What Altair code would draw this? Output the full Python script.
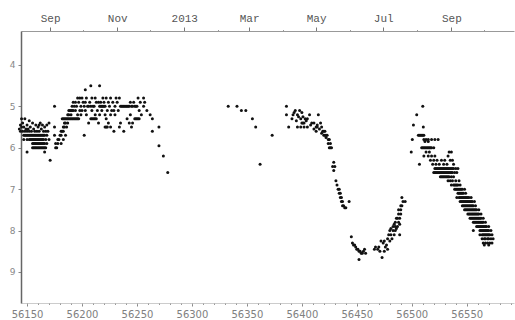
import altair as alt
import pandas as pd

# ---- data: rows of (magnitude, [MJD, ...]) ----
rows_2012 = [
    (5.3, [56145, 56148]),
    (5.35, [56152]),
    (5.4, [56146, 56155, 56162, 56170]),
    (5.45, [56144, 56150, 56158, 56161, 56164, 56168]),
    (5.5, [56145, 56147, 56153, 56160, 56166, 56175]),
    (5.55, [56143, 56149, 56151, 56156, 56163]),
    (5.6, [56144, 56146, 56148, 56150, 56152, 56154, 56157, 56159, 56161, 56165, 56167, 56169]),
    (5.7, [56147, 56148, 56149, 56150, 56151, 56152, 56153, 56154, 56155, 56156, 56157, 56158,
           56159, 56160, 56161, 56162, 56163, 56164, 56165, 56166, 56168, 56175]),
    (5.8, [56147, 56150, 56152, 56153, 56154, 56155, 56156, 56157, 56158, 56159, 56160, 56161,
           56162, 56163, 56164, 56165, 56167, 56170]),
    (5.9, [56155, 56156, 56157, 56158, 56159, 56160, 56161, 56162, 56163, 56164, 56165, 56166, 56168]),
    (6.0, [56155, 56156, 56157, 56158, 56159, 56160, 56161, 56162, 56163, 56164, 56165, 56166, 56167]),
    (6.1, [56150, 56166]),
    (6.3, [56171]),
    (5.0, [56175]),
    # rise
    (6.0, [56176, 56177]),
    (5.9, [56176, 56178, 56181]),
    (5.8, [56178, 56179, 56183]),
    (5.7, [56180, 56181, 56185]),
    (5.6, [56181, 56182, 56183]),
    (5.5, [56183, 56184, 56186]),
    (5.4, [56184, 56185, 56187]),
    (5.3, [56182, 56183, 56184, 56185, 56186, 56187, 56188, 56189, 56190, 56191, 56192, 56193,
           56194, 56195, 56196, 56197]),
    (5.2, [56187, 56188, 56190]),
    (5.1, [56188, 56189, 56191]),
    # plateau
    (4.6, [56203]),
    (4.5, [56208, 56216]),
    (4.8, [56196, 56198, 56200, 56204, 56209, 56212, 56219, 56222, 56226, 56231, 56234, 56251, 56256]),
    (4.9, [56192, 56194, 56197, 56201, 56203, 56207, 56213, 56215, 56217, 56220, 56224, 56228,
           56232, 56244, 56247, 56253, 56257]),
    (5.0, [56191, 56193, 56195, 56199, 56202, 56205, 56206, 56208, 56210, 56211, 56216, 56217,
           56218, 56219, 56220, 56221, 56225, 56230, 56235, 56236, 56237, 56238, 56239, 56240,
           56241, 56242, 56243, 56245, 56246, 56248, 56249, 56250, 56256]),
    (5.1, [56190, 56192, 56194, 56198, 56200, 56203, 56209, 56214, 56218, 56223, 56227, 56229,
           56233, 56252, 56259]),
    (5.2, [56196, 56199, 56204, 56212, 56216, 56221, 56226, 56230, 56244, 56254, 56262]),
    (5.3, [56208, 56209, 56210, 56211, 56212, 56213, 56222, 56241, 56248, 56249, 56250, 56251,
           56252, 56264]),
    (5.4, [56206, 56215, 56224, 56235, 56243, 56246]),
    (5.5, [56221, 56222, 56223, 56226, 56234, 56245, 56270]),
    (5.6, [56229, 56238, 56264]),
    (5.7, [56202]),
    (5.95, [56270]),
    (6.2, [56274]),
    (6.6, [56278]),
]

rows_2013a = [
    (5.0, [56333, 56341, 56386]),
    (5.1, [56345, 56349, 56394, 56398]),
    (5.3, [56355, 56391, 56399, 56405, 56403]),
    (5.5, [56358, 56388, 56396, 56399, 56402, 56405, 56413, 56414, 56418]),
    (6.4, [56362]),
    (5.7, [56373, 56420, 56421, 56422, 56423]),
    (5.2, [56386, 56392, 56396, 56407, 56415]),
    (5.15, [56393, 56400]),
    (5.25, [56397, 56401]),
    (5.35, [56395, 56404]),
    (5.4, [56400, 56401, 56402, 56409, 56411, 56417]),
    (5.45, [56408, 56414]),
    (5.55, [56411, 56416]),
    (5.6, [56413, 56419, 56420, 56421]),
    (5.65, [56418]),
    (5.75, [56422]),
    (5.8, [56424, 56425]),
    (5.9, [56424, 56426]),
    (6.0, [56425, 56426, 56427]),
    (6.35, [56429]),
    (6.45, [56428, 56430]),
    (6.55, [56429]),
    (6.8, [56431]),
    (6.9, [56432]),
    (7.0, [56433, 56434]),
    (7.1, [56434, 56435]),
    (7.2, [56435, 56436]),
    (7.3, [56436, 56437, 56443]),
    (7.4, [56437, 56438]),
    (7.45, [56439, 56440]),
]

rows_2013b = [
    (8.15, [56445]),
    (8.3, [56446, 56474]),
    (8.35, [56447, 56448, 56477]),
    (8.4, [56449, 56467, 56470, 56476]),
    (8.45, [56450, 56451, 56457, 56466, 56478, 56469]),
    (8.5, [56452, 56453, 56456, 56471, 56475]),
    (8.55, [56454, 56455, 56458]),
    (8.65, [56473]),
    (8.7, [56452]),
    (8.25, [56475, 56480, 56472]),
    (8.2, [56482, 56478]),
    (8.1, [56479, 56484, 56489, 56481]),
    (8.0, [56480, 56483, 56485]),
    (7.95, [56481, 56486]),
    (7.9, [56483, 56487, 56485]),
    (7.85, [56484, 56489]),
    (7.8, [56485, 56488]),
    (7.7, [56486, 56489, 56487]),
    (7.6, [56488, 56490]),
    (7.5, [56488, 56490]),
    (7.4, [56490, 56491]),
    (7.3, [56492, 56494]),
    (7.2, [56491]),
]

rows_2013c = [
    (5.0, [56510]),
    (5.2, [56504.5]),
    (5.45, [56501.5]),
    (5.5, [56510.5]),
    (5.7, [56506, 56507, 56508, 56509, 56510, 56511]),
    (5.8, [56500.5, 56511, 56513, 56515, 56518, 56521, 56524]),
    (5.85, [56512, 56515]),
    (6.0, [56509, 56510, 56511, 56512, 56513, 56514, 56515, 56516, 56517, 56518, 56520]),
    (6.1, [56499.5, 56513, 56516, 56534, 56536]),
    (6.2, [56511, 56515, 56518, 56521, 56533]),
    (6.3, [56517, 56520, 56523, 56527, 56530, 56535, 56537]),
    (6.4, [56507, 56519, 56522, 56525, 56529, 56532, 56538]),
    (6.5, [56521, 56522, 56523, 56524, 56525, 56526, 56527, 56528, 56529, 56530, 56531, 56532,
           56533, 56534, 56535, 56536, 56537, 56538, 56540, 56542]),
    (6.6, [56520, 56521, 56522, 56523, 56524, 56525, 56526, 56527, 56528, 56529, 56530, 56531,
           56532, 56533, 56534, 56535, 56536, 56537, 56539, 56541]),
    (6.7, [56526, 56527, 56528, 56529, 56530, 56531, 56532, 56533, 56534, 56536, 56538]),
    (6.8, [56533, 56535, 56537, 56540, 56543]),
    (6.9, [56536, 56538, 56539, 56540, 56541, 56542, 56544]),
    (7.0, [56539, 56540, 56541, 56542, 56543, 56544, 56545, 56546, 56548]),
    (7.1, [56542, 56543, 56544, 56545, 56546, 56547, 56549]),
    (7.2, [56541, 56543, 56544, 56545, 56546, 56547, 56548, 56549, 56550, 56551, 56552, 56554]),
    (7.3, [56544, 56545, 56546, 56547, 56548, 56549, 56550, 56551, 56552, 56553, 56554, 56555, 56557]),
    (7.4, [56546, 56547, 56548, 56549, 56550, 56551, 56552, 56553, 56554, 56555, 56556, 56558]),
    (7.5, [56548, 56549, 56550, 56551, 56552, 56553, 56554, 56555, 56556, 56557, 56558, 56559, 56561]),
    (7.6, [56551, 56552, 56553, 56554, 56555, 56556, 56557, 56558, 56559, 56560, 56561, 56563]),
    (7.7, [56553, 56554, 56555, 56556, 56557, 56558, 56559, 56560, 56561, 56562, 56563, 56565]),
    (7.8, [56556, 56557, 56558, 56559, 56560, 56561, 56562, 56563, 56564, 56565, 56567]),
    (7.9, [56559, 56560, 56561, 56562, 56563, 56564, 56565, 56566, 56567, 56568, 56570]),
    (8.0, [56556, 56562, 56563, 56564, 56565, 56566, 56567, 56568, 56569, 56570, 56572]),
    (8.1, [56562, 56564, 56565, 56566, 56567, 56568, 56569, 56570, 56571, 56573]),
    (8.2, [56564, 56566, 56567, 56569, 56570, 56572, 56574]),
    (8.3, [56565, 56567, 56569, 56571, 56573]),
    (8.35, [56566, 56570]),
]

# axis ticks
bottom_major = [56150, 56200, 56250, 56300, 56350, 56400, 56450, 56500, 56550]
bottom_minor = [56150, 56160, 56170, 56180, 56190, 56200, 56210, 56220, 56230, 56240, 56250,
                56260, 56270, 56280, 56290, 56300, 56310, 56320, 56330, 56340, 56350, 56360,
                56370, 56380, 56390, 56400, 56410, 56420, 56430, 56440, 56450, 56460, 56470,
                56480, 56490, 56500, 56510, 56520, 56530, 56540, 56550, 56560, 56570, 56580, 56590]
top_major = [56171, 56232, 56293, 56352, 56413, 56474, 56536]
top_labels = ["Sep", "Nov", "2013", "Mar", "May", "Jul", "Sep"]
top_minor = [56201, 56262, 56324, 56383, 56444, 56505, 56566]
y_ticks = [4, 5, 6, 7, 8, 9]

records = []
for rows in (rows_2012, rows_2013a, rows_2013b, rows_2013c):
    for mag, mjds in rows:
        for d in mjds:
            records.append({"mjd": d, "mag": mag})
df = pd.DataFrame(records)

label_expr = " : ".join(
    f"datum.value == {v} ? '{t}'" for v, t in zip(top_major, top_labels)
) + " : ''"

x_scale = alt.Scale(domain=[56144.5, 56593], nice=False, zero=False)
y_scale = alt.Scale(domain=[3.18, 9.75], reverse=True, nice=False, zero=False)

base = alt.Chart(df)

points = base.mark_circle(size=9, color="#111111", opacity=1).encode(
    x=alt.X("mjd:Q", scale=x_scale,
            axis=alt.Axis(orient="bottom", values=bottom_major, format="d", tickSize=3,
                          tickColor="#888888", domainColor="#cccccc", labelColor="#808080",
                          labelFont="DejaVu Sans", labelFontSize=10, labelPadding=3,
                          labelFlush=False, grid=False, title=None)),
    y=alt.Y("mag:Q", scale=y_scale,
            axis=alt.Axis(values=y_ticks, format="d", tickSize=3, tickColor="#888888",
                          domainColor="#666666", domainWidth=1.5, labelColor="#888888",
                          labelFont="DejaVu Sans", labelFontSize=9, labelPadding=3,
                          labelFlush=False, grid=False, title=None)),
)

minor_bottom = base.mark_circle(size=1, opacity=0).encode(
    x=alt.X("mjd:Q", scale=x_scale,
            axis=alt.Axis(orient="bottom", values=bottom_minor, labels=False, domain=False,
                          tickSize=1.5, tickColor="#999999", grid=False, title=None)),
    y=alt.Y("mag:Q", scale=y_scale, axis=None),
)

major_top = base.mark_circle(size=1, opacity=0).encode(
    x=alt.X("mjd:Q", scale=x_scale,
            axis=alt.Axis(orient="top", values=top_major, labelExpr=label_expr, tickSize=4,
                          tickColor="#777777", domainColor="#999999", labelColor="#555555",
                          labelFont="Liberation Mono", labelFontSize=11, labelPadding=4,
                          labelFlush=False, grid=False, title=None)),
    y=alt.Y("mag:Q", scale=y_scale, axis=None),
)

minor_top = base.mark_circle(size=1, opacity=0).encode(
    x=alt.X("mjd:Q", scale=x_scale,
            axis=alt.Axis(orient="top", values=top_minor, labels=False, domain=False,
                          tickSize=1.5, tickColor="#999999", grid=False, title=None)),
    y=alt.Y("mag:Q", scale=y_scale, axis=None),
)

chart = alt.layer(points, minor_bottom, major_top, minor_top).resolve_axis(
    x="independent", y="independent"
).properties(
    width=493, height=272,
    autosize=alt.AutoSizeParams(type="none"),
    padding={"left": 21, "top": 31, "right": 1, "bottom": 17},
    background="white",
).configure_view(stroke="transparent")

chart.save("out.html", embed_options={"renderer": "svg", "actions": False})
